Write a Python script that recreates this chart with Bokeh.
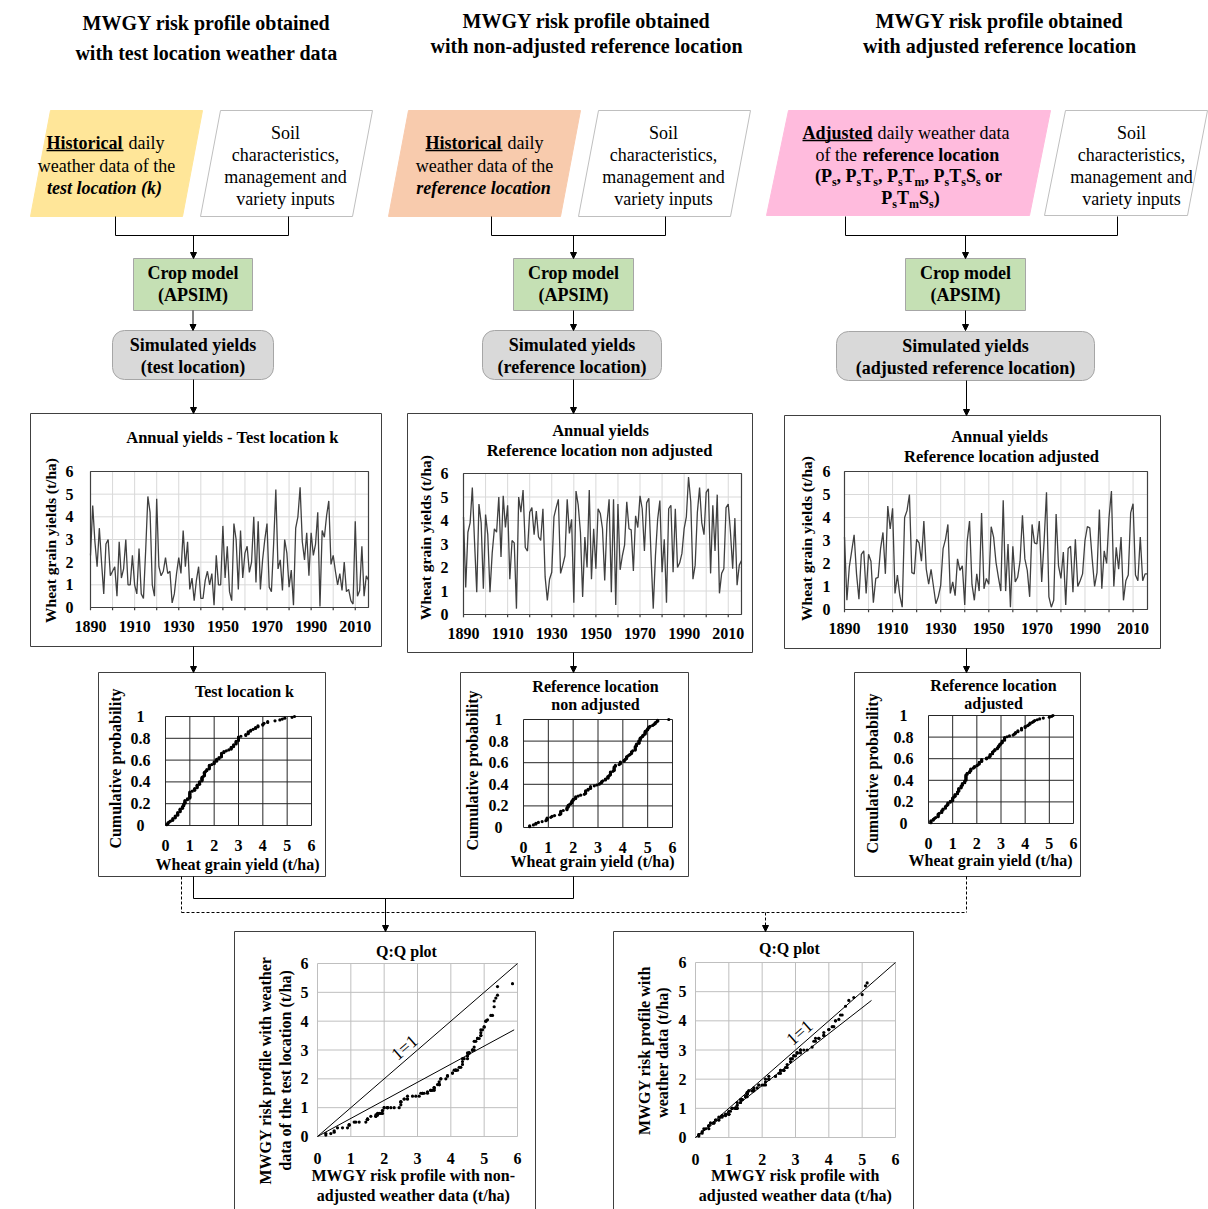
import numpy as np
from bokeh.plotting import figure
from bokeh.models import Range1d, Arrow, NormalHead
from bokeh.core.properties import value
from bokeh.embed import file_html
from bokeh.resources import INLINE

# ---------------- DATA ----------------
years = list(range(1890, 2017))

yield_test = [
    2.3, 4.5, 2.9, 1.8, 3.5, 2.0, 0.6, 2.8, 3.0, 1.4,
    1.6, 1.8, 0.5, 2.9, 1.3, 1.7, 3.0, 1.0, 1.0, 2.3,
    1.0, 0.6, 2.6, 0.6, 0.4, 2.5, 4.9, 4.2, 1.0, 0.5,
    4.8, 1.8, 1.4, 1.6, 2.2, 1.5, 1.6, 0.2, 0.6, 1.5,
    2.2, 1.5, 3.4, 1.8, 2.9, 0.8, 1.3, 0.3, 1.2, 1.8,
    0.4, 0.4, 1.2, 1.6, 1.0, 1.5, 0.1, 2.3, 1.0, 1.0,
    3.6, 1.3, 2.7, 0.7, 0.3, 3.7, 3.0, 0.8, 3.4, 1.3,
    2.4, 2.7, 1.55, 2.0, 4.0, 1.1, 3.8, 0.8, 2.1, 3.0,
    3.7, 0.9, 0.7, 2.8, 5.2, 1.7, 2.1, 0.75, 3.0, 2.4,
    0.9, 1.65, 0.1, 3.5, 4.0, 5.3, 2.9, 2.1, 3.3, 1.4,
    3.3, 2.3, 2.8, 4.2, 0.05, 3.4, 3.1, 4.05, 4.7, 1.9,
    2.3, 1.6, 1.0, 1.5, 0.75, 2.0, 0.7, 0.8, 0.3, 0.15,
    3.8, 0.5, 0.75, 2.7, 0.5, 1.4, 1.2]

yield_ref = [
    4.15, 1.15, 3.5, 3.9, 5.4, 3.1, 0.95, 4.7, 3.9, 1.1,
    4.25, 3.4, 0.95, 2.6, 3.65, 3.5, 5.0, 2.45, 5.05, 3.7,
    4.65, 1.5, 3.15, 3.05, 0.25, 5.0, 4.35, 5.3, 2.85, 2.7,
    4.35, 4.55, 3.4, 4.4, 3.3, 3.15, 4.5, 1.6, 0.6, 1.5,
    1.8, 4.15, 4.55, 4.9, 1.75, 2.1, 2.5, 4.9, 3.45, 4.05,
    0.5, 5.25, 4.65, 3.5, 0.75, 3.3, 2.0, 5.3, 1.5, 3.65,
    1.95, 4.5, 4.3, 3.65, 1.45, 3.85, 4.9, 0.95, 4.9, 0.4,
    4.7, 1.9, 2.5, 2.95, 4.8, 3.65, 3.6, 1.85, 4.2, 3.7,
    5.05, 4.5, 2.7, 4.75, 4.95, 2.5, 0.25, 2.5, 4.05, 4.85,
    1.8, 3.2, 0.5, 4.5, 4.65, 1.8, 4.5, 2.0, 2.2, 2.6,
    3.65, 4.15, 5.85, 4.8, 1.5, 2.1, 4.35, 5.4, 3.9, 3.4,
    5.2, 5.35, 1.75, 4.65, 2.7, 5.1, 0.9, 1.75, 1.95, 4.55,
    4.7, 3.5, 1.95, 4.1, 1.25, 2.1, 2.3]

yield_adj = [
    3.15, 0.4, 1.85, 2.55, 3.25, 1.55, 0.45, 2.4, 2.55, 0.7,
    2.4, 2.1, 0.3, 1.35, 1.4, 2.65, 3.35, 1.55, 4.5, 3.5,
    4.4, 0.7, 1.5, 0.6, 0.1, 4.0, 4.3, 5.0, 1.6, 1.55,
    3.05, 2.9, 2.1, 3.85, 1.75, 1.1, 1.75, 1.0, 0.25, 0.55,
    1.05, 2.65, 3.05, 3.7, 0.7, 1.2, 0.6, 2.2, 1.7, 1.9,
    0.2, 2.95, 3.85, 1.1, 0.4, 1.55, 0.8, 4.2, 0.9, 1.35,
    1.1, 3.6, 3.15, 2.05, 1.4, 0.8, 4.75, 0.8, 2.85, 0.1,
    2.75, 1.2, 1.4, 2.1, 4.1, 2.2, 1.7, 0.55, 3.7, 2.9,
    2.85, 3.85, 1.2, 2.95, 5.1, 0.55, 0.1, 0.4, 4.15, 1.9,
    1.35, 2.5, 0.2, 2.65, 2.75, 0.75, 3.05, 1.0, 1.25, 1.55,
    3.0, 3.6, 3.55, 2.2, 1.0, 1.6, 4.35, 0.9, 2.55, 2.0,
    4.0, 5.15, 1.0, 2.7, 1.75, 3.15, 0.4, 1.25, 1.5, 4.2,
    4.6, 1.5, 1.25, 3.15, 1.25, 1.55, 1.55]

ts_xtick_labels = [1890, 1910, 1930, 1950, 1970, 1990, 2010]
ts_minor_ticks = [1890, 1900, 1910, 1920, 1930, 1940, 1950, 1960, 1970, 1980, 1990, 2000, 2010]
ts_yticks = [0, 1, 2, 3, 4, 5, 6]
cdf_xticks = [0, 1, 2, 3, 4, 5, 6]
cdf_yticks = [0, 0.2, 0.4, 0.6, 0.8, 1.0]
cdf_ylabels = ["0", "0.2", "0.4", "0.6", "0.8", "1"]
qq_ticks = [0, 1, 2, 3, 4, 5, 6]
one_to_one = [0, 6]
trend1_x = [0.0, 5.9]
trend1_y = [0.0, 3.7]
trend2_x = [0.0, 5.28]
trend2_y = [0.0, 4.7]

# ---------------- CANVAS ----------------
W, H = 1208, 1209
p = figure(width=W, height=H, x_range=Range1d(0, W), y_range=Range1d(H, 0),
           output_backend="svg", toolbar_location=None, min_border=0,
           x_axis_type=None, y_axis_type=None)
p.grid.visible = False
p.outline_line_color = None
p.background_fill_color = "white"

SER = value("Liberation Serif")
BLACK = "#000000"


def T(x, y, s, size=18, style="bold", align="center", baseline="middle", angle=0.0, g=None):
    g = g or p
    g.text(x=[x], y=[y], text=[s], text_font=SER, text_font_size=f"{size}px",
           text_font_style=style, text_align=align, text_baseline=baseline,
           angle=angle, text_color=BLACK)


def seg(x0, y0, x1, y1, dash="solid", color=BLACK, w=1):
    p.segment(x0=[x0], y0=[y0], x1=[x1], y1=[y1], line_color=color, line_width=w, line_dash=dash)


def arrow(x0, y0, x1, y1, dash="solid"):
    p.add_layout(Arrow(x_start=x0, y_start=y0, x_end=x1, y_end=y1, line_color=BLACK,
                       line_width=1, line_dash=dash,
                       end=NormalHead(size=6, fill_color=BLACK, line_color=BLACK, line_width=1)))


# ---------------- TITLES ----------------
T(206, 22, "MWGY risk profile obtained", 20)
T(206, 52, "with test location weather data", 20)
T(586, 20, "MWGY risk profile obtained", 20)
T(586, 45, "with non-adjusted reference location", 20)
T(999, 20, "MWGY risk profile obtained", 20)
T(999, 45, "with adjusted reference location", 20)

# ---------------- INPUT BOXES ----------------
boxes = [
    ([50, 202, 182, 30], [110, 110, 216, 216], "#FFE699", None),
    ([220, 372, 352, 200], [110, 110, 216, 216], "white", "#BFBFBF"),
    ([408, 580, 560, 388], [110, 110, 216, 216], "#F8CBAD", None),
    ([598, 750, 730, 578], [110, 110, 216, 216], "white", "#BFBFBF"),
    ([788, 1050, 1029, 766], [110, 110, 215, 215], "#FFBBDD", None),
    ([1065, 1207, 1187, 1044], [110, 110, 215, 215], "white", "#BFBFBF"),
]
for xs, ys, fc, lc in boxes:
    p.patch(x=xs, y=ys, fill_color=fc, line_color=lc if lc else fc, line_width=1)

# col 1 text
T(46, 142, "Historical", 18, "bold", align="left")
seg(46, 150, 123, 150, w=1.3)
T(128, 142, "daily", 18, "normal", align="left")
T(106, 165, "weather data of the", 18, "normal")
T(104, 187, "test location (k)", 18, "bold italic")
# col 2 text
T(425, 142, "Historical", 18, "bold", align="left")
seg(425, 150, 502, 150, w=1.3)
T(507, 142, "daily", 18, "normal", align="left")
T(484, 165, "weather data of the", 18, "normal")
T(483, 187, "reference location", 18, "bold italic")
# col 3 text
T(802, 132, "Adjusted", 18, "bold", align="left")
seg(802, 140, 872, 140, w=1.3)
T(877, 132, "daily weather data", 18, "normal", align="left")
T(815, 154, "of the", 18, "normal", align="left")
T(862, 154, "reference location", 18, "bold", align="left")

TB = {'(': 333, ')': 333, 'P': 611, ',': 250, ' ': 250, 'T': 667, 'S': 556,
      's': 389, 'm': 833, 'o': 500, 'r': 444}


def sub_line(parts, cx, y, main=18, sub=12):
    widths = []
    for s, k in parts:
        sz = main if k == "m" else sub
        widths.append(sum(TB[c] for c in s) * sz / 1000.0)
    x = cx - sum(widths) / 2.0
    for (s, k), w in zip(parts, widths):
        lead = len(s) - len(s.lstrip(" "))
        sz = main if k == "m" else sub
        xs = x + lead * TB[' '] * sz / 1000.0
        if k == "m":
            T(xs, y, s.lstrip(" "), main, "bold", align="left")
        else:
            T(xs, y + 6, s.lstrip(" "), sub, "bold", align="left")
        x += w


sub_line([("(P", "m"), ("s", "s"), (", P", "m"), ("s", "s"), ("T", "m"), ("s", "s"),
          (", P", "m"), ("s", "s"), ("T", "m"), ("m", "s"), (", P", "m"), ("s", "s"),
          ("T", "m"), ("s", "s"), ("S", "m"), ("s", "s"), (" or", "m")], 908, 175)
sub_line([("P", "m"), ("s", "s"), ("T", "m"), ("m", "s"), ("S", "m"), ("s", "s"), (")", "m")], 910, 197)

for cx in (285, 663, 1131):
    T(cx, 132, "Soil", 18, "normal")
    T(cx, 154, "characteristics,", 18, "normal")
    T(cx, 176, "management and", 18, "normal")
    T(cx, 198, "variety inputs", 18, "normal")

# brackets
for xl, xr, xc in ((115, 288, 193), (491, 665, 573), (845, 1117, 965)):
    seg(xl, 216, xl, 235)
    seg(xr, 216, xr, 235)
    seg(xl, 235, xr, 235)
    arrow(xc, 235, xc, 258)

# crop model + simulated yields
for l, r in ((133, 252), (513, 633), (905, 1025)):
    p.quad(left=l, right=r, top=258, bottom=310, fill_color="#C5E0B4", line_color="#A6A6A6")
    T((l + r) / 2, 272, "Crop model", 18)
    T((l + r) / 2, 294, "(APSIM)", 18)
    arrow((l + r) / 2, 310, (l + r) / 2, 330)

for l, r, t, b, s in ((112, 273, 330, 379, "(test location)"),
                      (482, 661, 330, 379, "(reference location)"),
                      (836, 1094, 331, 380, "(adjusted reference location)")):
    p.rect(x=[(l + r) / 2], y=[(t + b) / 2], width=[r - l], height=[b - t], border_radius=12,
           fill_color="#D9D9D9", line_color="#A6A6A6")
    T((l + r) / 2, t + 14, "Simulated yields", 18)
    T((l + r) / 2, t + 36, s, 18)

arrow(193, 379, 193, 413)
arrow(573, 379, 573, 413)
arrow(966, 380, 966, 415)


# ---------------- TIME SERIES PANELS ----------------
def ts_panel(box, plot, titles, ytitle_xy, data, ylab_off):
    bl, bt, br, bb = box
    p.quad(left=bl, right=br, top=bt, bottom=bb, fill_color="white", line_color="#404040")
    pl, pt, pr, pb = plot
    sp = p.subplot(x_source=Range1d(1890, 2016), y_source=Range1d(0, 6),
                   x_target=Range1d(pl, pr), y_target=Range1d(pb, pt))
    sp.segment(x0=ts_minor_ticks[1:], y0=[0] * 12, x1=ts_minor_ticks[1:], y1=[6] * 12,
               line_color="#D9D9D9", line_width=1)
    sp.segment(x0=[1890] * 5, y0=ts_yticks[1:-1], x1=[2016] * 5, y1=ts_yticks[1:-1],
               line_color="#D9D9D9", line_width=1)
    sp.line(x=years, y=data, line_color="#404040", line_width=1.3)
    sp.quad(left=1890, right=2016, bottom=0, top=6, fill_color=None, line_color="#404040", line_width=1.2)
    sp.segment(x0=ts_minor_ticks, y0=[0] * 13, x1=ts_minor_ticks, y1=[-0.12] * 13,
               line_color="#404040", line_width=1.2)
    sp.text(x=ts_xtick_labels, y=[0] * 7, text=[str(v) for v in ts_xtick_labels], y_offset=19,
            text_font=SER, text_font_size="16px", text_font_style="bold",
            text_align="center", text_baseline="middle")
    sp.text(x=[1890] * 7, y=ts_yticks, text=[str(v) for v in ts_yticks], x_offset=ylab_off,
            text_font=SER, text_font_size="16px", text_font_style="bold",
            text_align="center", text_baseline="middle")
    for (tx, ty, s) in titles:
        T(tx, ty, s, 16.5)
    T(ytitle_xy[0], ytitle_xy[1], "Wheat grain yields (t/ha)", 15.5, angle=np.pi / 2)


ts_panel((30, 413, 381, 646), (90, 471, 368, 607),
         [(232, 437, "Annual yields - Test location k")], (50, 540), yield_test, -21)
ts_panel((407, 413, 752, 652), (463, 473, 741, 614),
         [(600, 430, "Annual yields"), (599, 450, "Reference location non adjusted")],
         (425, 537), yield_ref, -19)
ts_panel((784, 415, 1160, 648), (844, 471, 1147, 609),
         [(999, 436, "Annual yields"), (1001, 456, "Reference location adjusted")],
         (806, 538), yield_adj, -18)

arrow(193, 646, 193, 672)
arrow(573, 652, 573, 672)
arrow(966, 648, 966, 672)


# ---------------- CDF PANELS ----------------
def cdf_panel(box, plot, titles, ytitle_xy, xtitle_xy, data):
    bl, bt, br, bb = box
    p.quad(left=bl, right=br, top=bt, bottom=bb, fill_color="white", line_color="#404040")
    pl, pt, pr, pb = plot
    sp = p.subplot(x_source=Range1d(0, 6), y_source=Range1d(0, 1),
                   x_target=Range1d(pl, pr), y_target=Range1d(pb, pt))
    sp.segment(x0=cdf_xticks, y0=[0] * 7, x1=cdf_xticks, y1=[1] * 7, line_color="#262626", line_width=1)
    sp.segment(x0=[0] * 6, y0=cdf_yticks, x1=[6] * 6, y1=cdf_yticks, line_color="#262626", line_width=1)
    xs = np.sort(np.array(data))
    ps = (np.arange(len(xs)) + 1) / len(xs)
    sp.scatter(x=xs, y=ps, size=3.2, fill_color=BLACK, line_color=None)
    sp.text(x=cdf_xticks, y=[0] * 7, text=[str(v) for v in cdf_xticks], y_offset=20,
            text_font=SER, text_font_size="16px", text_font_style="bold",
            text_align="center", text_baseline="middle")
    sp.text(x=[0] * 6, y=cdf_yticks, text=cdf_ylabels, x_offset=-25,
            text_font=SER, text_font_size="16px", text_font_style="bold",
            text_align="center", text_baseline="middle")
    for (tx, ty, s) in titles:
        T(tx, ty, s, 16)
    T(xtitle_xy[0], xtitle_xy[1], "Wheat grain yield (t/ha)", 16)
    T(ytitle_xy[0], ytitle_xy[1], "Cumulative probability", 16, angle=np.pi / 2)


cdf_panel((98, 672, 325, 876), (165, 716, 311, 825), [(244, 691, "Test location k")],
          (115, 768), (237, 864), yield_test)
cdf_panel((460, 672, 688, 876), (523, 719, 672, 827),
          [(595, 686, "Reference location"), (595, 704, "non adjusted")],
          (472, 770), (592, 861), yield_ref)
cdf_panel((854, 672, 1080, 876), (928, 715, 1073, 823),
          [(993, 685, "Reference location"), (993, 703, "adjusted")],
          (872, 773), (990, 860), yield_adj)

# connectors to QQ plots
seg(193, 876, 193, 898)
seg(573, 876, 573, 898)
seg(193, 898, 573, 898)
arrow(385, 898, 385, 931)
seg(181, 876, 181, 912, dash="3 2")
seg(966, 876, 966, 912, dash="3 2")
seg(181, 912, 966, 912, dash="3 2")
arrow(765, 912, 765, 931, dash="3 2")


# ---------------- QQ PANELS ----------------
def qq_panel(box, plot, title_xy, xt, yt, xdata, ydata, tx, ty, lab_xy):
    bl, bt, br, bb = box
    p.quad(left=bl, right=br, top=bt, bottom=bb, fill_color="white", line_color="#404040")
    pl, pt, pr, pb = plot
    sp = p.subplot(x_source=Range1d(0, 6), y_source=Range1d(0, 6),
                   x_target=Range1d(pl, pr), y_target=Range1d(pb, pt))
    sp.segment(x0=qq_ticks, y0=[0] * 7, x1=qq_ticks, y1=[6] * 7, line_color="#BFBFBF", line_width=1)
    sp.segment(x0=[0] * 7, y0=qq_ticks, x1=[6] * 7, y1=qq_ticks, line_color="#BFBFBF", line_width=1)
    sp.line(x=one_to_one, y=one_to_one, line_color=BLACK, line_width=1)
    sp.line(x=tx, y=ty, line_color=BLACK, line_width=1)
    sp.scatter(x=np.sort(np.array(xdata)), y=np.sort(np.array(ydata)), size=3.2,
               fill_color=BLACK, line_color=None)
    sp.text(x=qq_ticks, y=[0] * 7, text=[str(v) for v in qq_ticks], y_offset=22,
            text_font=SER, text_font_size="16px", text_font_style="bold",
            text_align="center", text_baseline="middle")
    sp.text(x=[0] * 7, y=qq_ticks, text=[str(v) for v in qq_ticks], x_offset=-13,
            text_font=SER, text_font_size="16px", text_font_style="bold",
            text_align="center", text_baseline="middle")
    ang = np.arctan2(pb - pt, pr - pl)
    T(lab_xy[0], lab_xy[1], "1=1", 18, "normal", angle=ang)
    T(title_xy[0], title_xy[1], "Q:Q plot", 16)
    for (x, y, s) in xt:
        T(x, y, s, 16)
    for (x, y, s) in yt:
        T(x, y, s, 16, angle=np.pi / 2)


qq_panel((234, 931, 535, 1215), (317, 963, 517, 1136), (406, 951),
         [(413, 1175, "MWGY risk profile with non-"), (413, 1195, "adjusted weather data (t/ha)")],
         [(265, 1070, "MWGY risk profile with weather"), (285, 1070, "data of the test location (t/ha)")],
         yield_ref, yield_test, trend1_x, trend1_y, (404, 1047))
qq_panel((613, 931, 913, 1215), (695, 962, 895, 1137), (789, 948),
         [(795, 1175, "MWGY risk profile with"), (795, 1195, "adjusted weather data (t/ha)")],
         [(644, 1050, "MWGY risk profile with"), (662, 1050, "weather data  (t/ha)")],
         yield_adj, yield_test, trend2_x, trend2_y, (799, 1032))

open("out.html", "w").write(file_html(p, INLINE))
